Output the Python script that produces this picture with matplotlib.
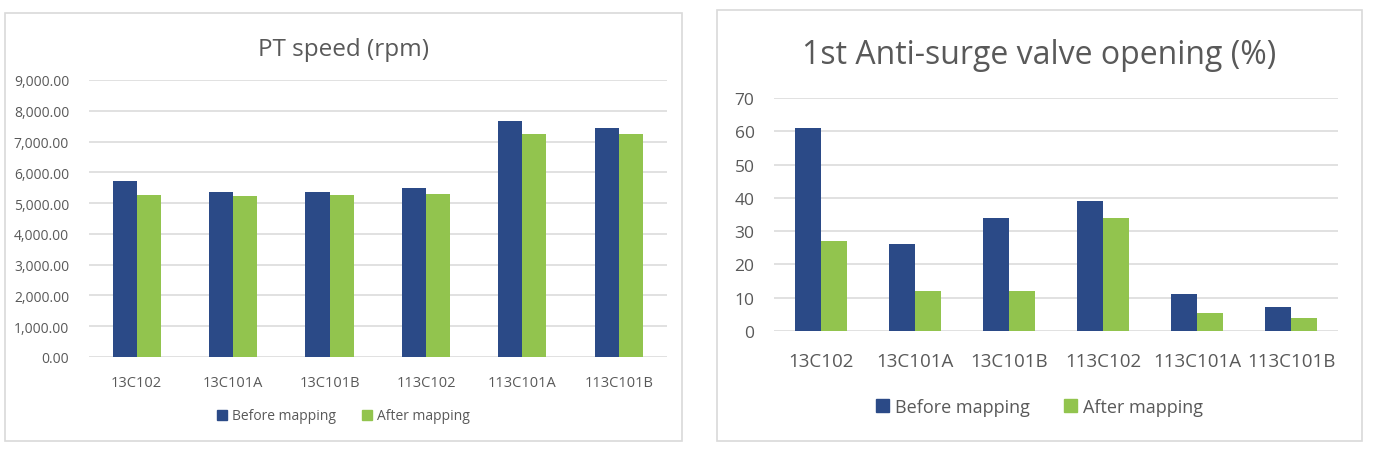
import matplotlib
matplotlib.use("Agg")
import matplotlib.pyplot as plt
from matplotlib.patches import Rectangle, Patch
import numpy as np

# Data
units = ["13C102", "13C101A", "13C101B", "113C102", "113C101A", "113C101B"]
pt_before = [5730, 5350, 5370, 5480, 7660, 7430]
pt_after = [5260, 5230, 5260, 5300, 7260, 7260]
asv_before = [61, 26, 34, 39, 11, 7.1]
asv_after = [27, 12, 12, 34, 5.5, 3.8]
series_names = ["Before mapping", "After mapping"]

BLUE = "#2B4A87"
GREEN = "#92C44E"
TXT = "#595959"
GRID = "#D9D9D9"

plt.rcParams["font.family"] = ["Open Sans", "DejaVu Sans"]

W, H = 1373, 456
fig = plt.figure(figsize=(W / 100, H / 100), dpi=100)

panels = [(5, 14, 682, 442), (717, 11, 1362, 442)]
# panel borders
for x0, y0, x1, y1 in panels:
    fig.patches.append(Rectangle((x0 / W, 1 - y1 / H), (x1 - x0) / W, (y1 - y0) / H,
                                 transform=fig.transFigure, fill=False,
                                 edgecolor=GRID, linewidth=1.2))


def bar_panel(rect, panel, before, after, width, ticks, fmt, tick_fs, xl_fs, leg_fs,
              title, title_fs, title_y, xl_y, leg_y):
    ax = fig.add_axes(rect)
    x = np.arange(len(units))
    ax.bar(x - width / 2, before, width, color=BLUE, zorder=3)
    ax.bar(x + width / 2, after, width, color=GREEN, zorder=3)
    ax.set_xlim(-0.5, len(units) - 0.5)
    ax.set_ylim(0, ticks[-1])
    ax.set_yticks(ticks)
    ax.set_yticklabels([fmt(t) for t in ticks], fontsize=tick_fs, color=TXT)
    ax.set_xticks(x)
    ax.set_xticklabels(units, fontsize=xl_fs, color=TXT)
    ax.tick_params(length=0)
    ax.tick_params(axis="y", pad=14)
    ax.tick_params(axis="x", pad=xl_y)
    ax.grid(axis="y", color=GRID, linewidth=1.1, zorder=0)
    for s in ax.spines.values():
        s.set_visible(False)
    cx = (panel[0] + panel[2]) / 2 / W
    fig.text(cx, 1 - title_y / H, title, fontsize=title_fs, color=TXT,
             ha="center", va="center")
    handles = [Patch(color=BLUE), Patch(color=GREEN)]
    fig.legend(handles, series_names, loc="center", ncol=2, frameon=False,
               bbox_to_anchor=(cx, 1 - leg_y / H), fontsize=leg_fs,
               handlelength=0.7, handleheight=0.7, handletextpad=0.35,
               columnspacing=1.9, labelcolor=TXT)
    return ax


bar_panel([88.5 / W, 1 - 358 / H, (667 - 88.5) / W, (358 - 81) / H], panels[0],
          pt_before, pt_after, 0.25, list(range(0, 9001, 1000)),
          lambda v: f"{v:,.2f}", 10, 10.5, 10,
          "PT speed (rpm)", 17.5, 50, 13, 417)

bar_panel([774 / W, 1 - 332 / H, (1338 - 774) / W, (332 - 99) / H], panels[1],
          asv_before, asv_after, 0.28, list(range(0, 71, 10)),
          lambda v: f"{v}", 12.5, 13.5, 13,
          "1st Anti-surge valve opening (%)", 23, 56, 15, 408)

fig.savefig("out.png", dpi=100)
